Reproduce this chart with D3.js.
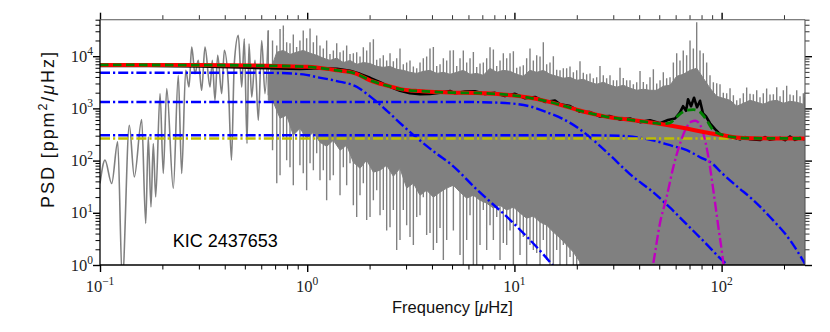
<!DOCTYPE html>
<html><head><meta charset="utf-8">
<script src="https://cdn.jsdelivr.net/npm/d3@7"></script>
<style>body{margin:0;background:#fff}</style>
</head><body><svg id="c" width="830" height="332"></svg>
<script>
// ---------- data ----------
// resolved low-frequency part of the power spectrum (grey)
const lowF=[0.1,0.1057,0.1139,0.1217,0.1281,0.1385,0.1464,0.1589,0.1662,0.1710,0.1762,0.1808,0.1857,0.1949,0.2020,0.2099,0.2258,0.2386,0.2479,0.2592,0.2689,0.2771,0.2874,0.2981,0.3095,0.3211,0.3396,0.3483,0.3589,0.3698,0.3867,0.3980,0.4161,0.4311,0.4447,0.4650,0.4830,0.4971,0.5123,0.5237,0.5397,0.5600,0.5808,0.6031,0.6256,0.6490];
const lowP=[36.5,102,36.5,228,0.5,475,48.8,611,6.27,284,13.0,212,20.2,1920,56.7,2390,29.3,4300,56.7,5350,2570,14900,4630,8310,2220,14900,2570,8310,1430,10400,1920,12900,2980,102,7190,25000,2570,21600,212,17300,1650,8310,592,20000,1920,31100];
// dense part of the power spectrum
const denseF=[0.649,0.713,0.767,0.826,0.889,0.957,1.032,1.111,1.196,1.288,
 1.388,1.494,1.609,1.733,1.866,2.010,2.165,2.330,2.510,2.703,
 2.910,3.134,3.377,3.634,3.914,4.217,4.540,4.890,5.267,5.668,
 6.107,6.577,7.079,7.626,8.215,8.842,9.524,10.26,11.04,11.89,
 12.81,13.79,14.85,16.00,17.22,18.55,19.98,21.50,23.17,24.95,
 26.85,28.93,31.17,33.54,36.13,38.93,41.90,45.12,48.62,52.32,
 56.36,60.7,65.3,70.4,75.8,81.6,87.9,94.7,101.9,109.8,
 118.3,127.3,137.1,147.7,158.9,171.2,184.5,198.6,213.8,230.4,
 248.0,252.6];
// upward spikes at the frequencies above
const hiPeak=[31100,16000,38800,17700,15000,31100,34000,25000,14100,11000,
 17700,12900,11000,11900,14800,18500,8500,10400,11400,9180,
 7000,8310,5860,9180,14100,6500,9180,12900,6500,12900,
 9180,6200,7540,14800,6500,11400,11400,6000,6670,14100,
 10400,18500,7540,5500,5860,6380,5350,4800,4680,3940,
 4300,4300,3450,3800,3450,3170,3200,3940,3000,4900,
 3940,11400,12900,20000,44600,11400,4300,3030,2000,2440,
 1430,1950,1900,2220,1950,1850,2550,2220,1850,2220,
 1950,2040];
// upward spikes between those frequencies
const hiMid=[20000,33000,18500,26000,20000,22000,18500,16100,20000,12900,
 11900,16000,11400,9910,12900,21000,9180,8310,7960,14000,
 7540,6380,7540,9910,15000,6970,8310,13000,9180,7540,
 12000,7230,9180,13500,8310,9180,12500,6380,9180,8310,
 9910,6970,10000,5350,5860,4900,8000,4490,3780,6500,
 3780,3450,6000,3450,2900,5200,2900,5600,3450,3780,
 7540,8310,10400,14100,12900,7540,3170,2900,1950,1780,
 1560,2500,1860,1630,2400,1860,1700,2700,1780,1700,
 1630];
// top edge of the solid grey band
const coreTop=[4000,11900,12900,10800,11900,12900,11400,10400,9180,8310,
 9180,7540,8310,6970,7540,7230,6380,6110,6380,5590,
 5350,4900,4680,5120,5350,4680,4900,4490,4900,5350,
 4490,4680,4300,5860,4900,5350,5120,4490,4120,5350,
 4900,5350,4490,4120,3780,3940,3450,3610,3170,2900,
 3170,2780,2550,2780,2440,2220,2330,2220,2220,2660,
 2780,4120,4490,5350,5860,3780,2440,1700,1560,1430,
 1100,1250,1430,1310,1200,1370,1430,1250,1370,1310,
 1200,1200];
// downward spikes at the frequencies above
const loDeep=[1780,36.9,280,74.7,475,57.3,89,138,65.5,42.1,
 215,74.7,89,8.3,36.9,8.3,27.1,11.3,5.3,1.93,
 11.3,3.43,8.3,19.9,4.1,2.63,1.25,52.5,33.8,0.5,
 9.0,0.5,11.3,5.8,8.3,2.63,4.6,5.8,3.43,2.41,
 1.70,3.0,0.5,1.93,2.41,1.42,0.5,0.5,0.5,0.5,
 0.5,0.5,0.5,0.5,0.5,0.5,0.5,0.5,0.5,0.5,
 0.5,0.5,0.5,0.5,0.5,0.5,0.5,0.5,0.5,0.5,
 0.5,0.5,0.5,0.5,0.5,0.5,0.5,0.5,0.5,0.5,
 0.5,0.5];
// bottom edge of the solid grey band (between the frequencies above)
const loCore=[1430,647,740,306,416,268,349,224,188,245,
 158,197,93,71.3,102,60,65.5,81.6,50.1,71.3,
 29.7,36.9,21.7,27.1,19.9,24.9,29.7,33.8,24.9,19.1,
 21.7,17.4,15.3,12.3,14.0,11.3,12.9,9.9,7.9,8.66,
 6.64,5.8,4.28,3.29,2.41,1.77,1.14,0.5,0.5,0.5,
 0.5,0.5,0.5,0.5,0.5,0.5,0.5,0.5,0.5,0.5,
 0.5,0.5,0.5,0.5,0.5,0.5,0.5,0.5,0.5,0.5,
 0.5,0.5,0.5,0.5,0.5,0.5,0.5,0.5,0.5,0.5,
 0.5];
// downward spikes between the frequencies above
const loMid=[158,52.5,102,33.8,81.6,27.1,65.5,42.1,17.4,52.5,
 21.7,33.8,14.0,21.7,7.26,17.4,9.0,4.6,11.3,3.0,
 5.8,2.41,9.0,3.75,1.93,5.1,3.0,4.6,1.55,3.0,
 1.0,2.41,1.93,3.0,1.25,2.41,0.8,1.55,1.0,1.93,
 0.8,1.25,0.5,1.0,0.5,0.8,0.5,0.5,0.5,0.5,
 0.5,0.5,0.5,0.5,0.5,0.5,0.5,0.5,0.5,0.5,
 0.5,0.5,0.5,0.5,0.5,0.5,0.5,0.5,0.5,0.5,
 0.5,0.5,0.5,0.5,0.5,0.5,0.5,0.5,0.5,0.5,
 0.5];
// smoothed spectrum (black)
const smF=[0.1,0.1743,0.3038,0.4738,0.6468,0.9232,1.153,1.392,1.609,1.798,2.010,2.246,2.509,2.805,3.134,3.503,3.914,4.374,4.889,5.168,5.776,6.453,7.213,8.061,9.007,10.07,11.25,12.57,14.05,15.70,16.60,18.55,20.73,23.17,25.89,28.93,32.34,36.13,40.38,45.12,50.43,55.12,59.60,62.99,65.13,67.35,68.86,71.19,73.60,76.09,78.67,81.33,84.08,87.90,92.95,98.24,109.8,122.7,129.7,137.1,153.2,162.0,171.2,191.4,202.3,213.8,226.1,239.0,252.6];
const smP=[6525,6525,6380,6110,5860,5720,5860,5720,5240,4590,3850,3160,2590,2170,1950,1860,1900,2000,2150,1950,2100,2130,1880,1980,1720,1900,1560,1650,1330,1420,1200,1110,860,850,700,710,610,640,545,590,520,600,640,840,1100,900,1500,1100,1600,1050,1400,800,700,520,400,320,290,255,282,256,248,282,250,272,247,290,250,270,255];
// background fit (red) and total fit (green)
const bgF=[0.1,0.3,0.65,1.0,1.11,1.39,1.72,2.01,2.40,2.91,3.47,4.22,4.89,6.60,9.71,11.7,14.2,17.0,20.4,24.4,29.3,33,46.6,67.9,81.6,101,118,142,171,252.6];
const bgP=[6800,6750,6550,6250,6050,5350,4630,3450,2770,2290,2150,2060,2010,1970,1780,1610,1380,1145,920,771,667,632,530,411,354,306,277,268,266,265];
const totF=[0.1,0.3,0.65,1.0,1.11,1.39,1.72,2.01,2.40,2.91,3.47,4.22,4.89,6.60,9.71,11.7,14.2,17.0,20.4,24.4,29.3,33,46.6,52,56.4,60.7,64,67.9,73.0,78.7,84.7,91.2,101,118,142,171,252.6];
const totP=[6800,6750,6550,6250,6050,5350,4630,3450,2770,2290,2150,2060,2010,1970,1780,1610,1380,1145,920,771,667,632,530,505,530,685,820,920,948,853,592,381,310,277,268,266,265];
// Harvey components (blue), white noise (yellow), Gaussian envelope (magenta)
const h1F=[0.1,0.649,0.957,1.11,1.39,1.74,2.01,2.41,2.91,3.47,4.22,4.89,6.58,9.71,14.2,16.0];
const h1P=[4830,4800,4490,3990,3340,2570,1700,920,460,250,135,88,28,6.8,1.4,0.8];
const h2F=[0.1,4.89,6.58,9.71,11.8,14.2,17.0,20.4,24.4,29.3,36.1,46.6,56.4,67.9,81.6,98.2,106,115];
const h2P=[1330,1330,1320,1240,1100,853,638,416,235,121,55,25,12.5,6.0,2.9,1.35,1.0,0.6];
const h3F=[0.1,20,32.3,46.5,56.4,67.9,78.7,90.9,98.2,118.3,142.2,171.2,213.8,252.6];
const h3P=[306,306,299,245,197,158,116,85.3,62.7,32.4,17.5,8.3,3.0,1.05];
const wnF=[0.1,252.6];
const wnP=[265,265];
const gsF=[45.1,46.8,50.4,54.3,58.5,63.0,67.9,71.5,74.5,77.2,81.6,86.3,91.2,96.4,101.9,104];
const gsP=[0.5,1.08,6.3,20.2,75.8,212,441,560,580,540,330,118,27.2,5.4,1.08,0.5];
// ticks
const majorX=[0.1,1,10,100];
const minorX=[0.2,0.3,0.4,0.5,0.6,0.7,0.8,0.9,2,3,4,5,6,7,8,9,20,30,40,50,60,70,80,90,200];
const majorY=[1,10,100,1000,10000];
const minorY=[2,3,4,5,6,7,8,9,20,30,40,50,60,70,80,90,200,300,400,500,600,700,800,900,2000,3000,4000,5000,6000,7000,8000,9000,20000,30000,40000,50000];
const xExp=["−1","0","1","2"];
const yExp=["0","1","2","3","4"];
const starName="KIC 2437653";

// ---------- drawing ----------
const svg=d3.select("#c");
const X0=100,X1=805,Y0=19.7,Y1=265;
const x=d3.scaleLog().domain([0.1,252.6]).range([X0,X1]);
const y=d3.scaleLog().domain([1,5e4]).range([Y1,Y0]);
svg.append("defs").append("clipPath").attr("id","pc").append("rect")
  .attr("x",X0).attr("y",Y0).attr("width",X1-X0).attr("height",Y1-Y0);
const g=svg.append("g").attr("clip-path","url(#pc)");
const zip=(F,P)=>F.map((f,i)=>[f,P[i]]);
const lin=d3.line().x(d=>x(d[0])).y(d=>y(d[1]));
const smooth=d3.line().x(d=>x(d[0])).y(d=>y(d[1])).curve(d3.curveMonotoneX);
const GREY="#808080";

// grey spectrum: resolved part
g.append("path").attr("d",smooth(zip(lowF,lowP))).attr("fill","none")
  .attr("stroke",GREY).attr("stroke-width",1.6).attr("stroke-linejoin","round");
// dense part: solid band + spikes
const N=denseF.length;
const mid=i=>Math.sqrt(denseF[i]*denseF[i+1]);
const band=[];
for(let i=0;i<N;i++)band.push([denseF[i],coreTop[i]]);
band.push([denseF[N-1],loCore[N-2]]);
for(let i=N-2;i>=0;i--)band.push([mid(i),loCore[i]]);
band.push([denseF[0],loCore[0]]);
g.append("path").attr("d",lin(band)+"Z").attr("fill",GREY)
  .attr("stroke",GREY).attr("stroke-width",1).attr("stroke-linejoin","round");
let sp="";
for(let i=0;i<N;i++)sp+=`M${x(denseF[i])},${y(loDeep[i])}V${y(hiPeak[i])}`;
for(let i=0;i<N-1;i++)sp+=`M${x(mid(i))},${y(loMid[i])}V${y(hiMid[i])}`;
g.append("path").attr("d",sp).attr("fill","none").attr("stroke",GREY).attr("stroke-width",1.4);

// smoothed spectrum
g.append("path").attr("d",lin(zip(smF,smP))).attr("fill","none")
  .attr("stroke","#000").attr("stroke-width",2.6).attr("stroke-linejoin","round");
// components
const dd="10,3,2.2,3";
[[h1F,h1P],[h2F,h2P],[h3F,h3P]].forEach(([F,P])=>{
  g.append("path").attr("d",smooth(zip(F,P))).attr("fill","none")
   .attr("stroke","#0000ff").attr("stroke-width",2.4).attr("stroke-dasharray",dd);
});
g.append("path").attr("d",lin(zip(wnF,wnP))).attr("fill","none")
  .attr("stroke","#bfbf00").attr("stroke-width",2.4).attr("stroke-dasharray",dd);
g.append("path").attr("d",smooth(zip(gsF,gsP))).attr("fill","none")
  .attr("stroke","#bf00bf").attr("stroke-width",2.4).attr("stroke-dasharray",dd);
g.append("path").attr("d",smooth(zip(bgF,bgP))).attr("fill","none")
  .attr("stroke","#ff0000").attr("stroke-width",4);
g.append("path").attr("d",smooth(zip(totF,totP))).attr("fill","none")
  .attr("stroke","#008000").attr("stroke-width",2.8).attr("stroke-dasharray","8.5,4.5");

// axes ticks
function ax(gen,tr,vals,size,col,w){
  const a=svg.append("g").attr("transform",tr)
    .call(gen.tickValues(vals).tickSize(size).tickSizeOuter(0).tickFormat(()=>""));
  a.select(".domain").remove();
  a.selectAll("line").attr("stroke",col).attr("stroke-width",w);
  a.selectAll("text").remove();
}
ax(d3.axisBottom(x),`translate(0,${Y1})`,majorX,7,"#000",1.4);
ax(d3.axisBottom(x),`translate(0,${Y1})`,minorX,4.5,"#000",1);
ax(d3.axisTop(x),`translate(0,${Y0})`,majorX,7,"#000",1.4);
ax(d3.axisTop(x),`translate(0,${Y0})`,minorX,4.5,"#333",1);
ax(d3.axisLeft(y),`translate(${X0},0)`,majorY,7,"#000",1.4);
ax(d3.axisLeft(y),`translate(${X0},0)`,minorY,4.5,"#000",1);
ax(d3.axisRight(y),`translate(${X1},0)`,majorY,7,"#000",1.4);
ax(d3.axisRight(y),`translate(${X1},0)`,minorY,4.5,"#333",1);

// frame
svg.append("line").attr("x1",X0).attr("x2",X1).attr("y1",Y0).attr("y2",Y0).attr("stroke","#555").attr("stroke-width",1.1);
svg.append("line").attr("x1",X1).attr("x2",X1).attr("y1",Y0).attr("y2",Y1).attr("stroke","#555").attr("stroke-width",1.1);
svg.append("line").attr("x1",X0).attr("x2",X1).attr("y1",Y1).attr("y2",Y1).attr("stroke","#000").attr("stroke-width",1.3);
svg.append("line").attr("x1",X0).attr("x2",X0).attr("y1",Y0).attr("y2",Y1).attr("stroke","#000").attr("stroke-width",1.3);

// tick labels
const tf="'Liberation Serif','DejaVu Serif',serif";
majorX.forEach((v,i)=>{
  const t=svg.append("text").attr("x",x(v)).attr("y",291.7).attr("text-anchor","middle")
    .attr("font-family",tf).attr("font-size",16.5).attr("fill","#222");
  t.append("tspan").text("10");
  t.append("tspan").attr("dy",-6.7).attr("font-size",11.5).text(xExp[i]);
});
majorY.forEach((v,i)=>{
  const t=svg.append("text").attr("x",93).attr("y",y(v)+5.5).attr("text-anchor","end")
    .attr("font-family",tf).attr("font-size",16.5).attr("fill","#222");
  t.append("tspan").text("10");
  t.append("tspan").attr("dy",-6.7).attr("font-size",11.5).text(yExp[i]);
});

// axis titles
const sf="'Liberation Sans',Arial,sans-serif";
const xl=svg.append("text").attr("x",(X0+X1)/2).attr("y",313).attr("text-anchor","middle")
  .attr("font-family",sf).attr("font-size",16.5).attr("fill","#111");
xl.append("tspan").text("Frequency [");
xl.append("tspan").attr("font-style","italic").text("μ");
xl.append("tspan").text("Hz]");
const yl=svg.append("text").attr("transform","translate(54,130) rotate(-90)")
  .attr("text-anchor","middle").attr("font-family",sf).attr("font-size",18).attr("fill","#111")
  .attr("textLength",156).attr("lengthAdjust","spacing");
yl.append("tspan").text("PSD [ppm");
yl.append("tspan").attr("dy",-7).attr("font-size",12.5).text("2");
yl.append("tspan").attr("dy",7).text("/");
yl.append("tspan").attr("font-style","italic").text("μ");
yl.append("tspan").text("Hz]");

svg.append("text").attr("x",172.7).attr("y",246.7).attr("font-family",sf)
  .attr("font-size",18).attr("fill","#000").text(starName);
</script>
</body></html>
